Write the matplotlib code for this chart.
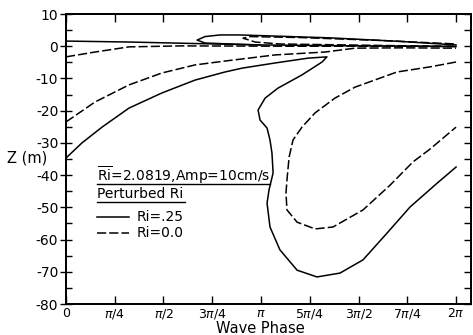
import numpy as np
import matplotlib
matplotlib.use("Agg")
import matplotlib.pyplot as plt
from matplotlib.ticker import MultipleLocator

plt.rcParams["font.family"] = "DejaVu Sans"
plt.rcParams["axes.unicode_minus"] = False

# wave phase in units of pi, depth Z in metres

# Ri = .25 (solid)
loop25_phase = [0.0, 0.082, 0.185, 0.323, 0.492, 0.662, 0.815, 0.903, 1.072, 1.241, 1.338,
                1.313, 1.210, 1.087, 1.021, 0.985, 0.995, 1.031, 1.046, 1.056, 1.062,
                1.041, 1.031, 1.046, 1.097, 1.185, 1.287, 1.405, 1.523, 1.646, 1.764,
                1.903, 2.0]
loop25_z = [-34.7, -30.0, -25.1, -19.2, -14.5, -10.5, -8.0, -6.8, -5.2, -3.7, -3.3,
            -4.9, -8.9, -13.0, -16.1, -19.8, -22.9, -25.4, -29.1, -33.1, -39.3,
            -44.6, -48.7, -56.1, -63.2, -69.5, -71.6, -70.4, -66.3, -58.0, -49.9,
            -42.5, -37.5]

top25_phase = [0.0, 0.328, 0.687, 0.995, 1.5, 2.0]
top25_z = [1.6, 1.3, 0.8, 0.4, 0.1, -0.1]

tongue25_phase = [0.995, 0.841, 0.713, 0.672, 0.713, 0.79, 0.892, 1.149, 1.354, 1.713, 2.0]
tongue25_z = [0.4, 0.7, 1.0, 1.9, 3.0, 3.5, 3.5, 3.0, 2.6, 1.5, 0.4]

# Ri = 0.0 (dashed)
u00_phase = [2.0, 1.867, 1.697, 1.482, 1.379, 1.277, 1.210, 1.164, 1.144, 1.133, 1.128,
             1.133, 1.185, 1.277, 1.369, 1.523, 1.662, 1.779, 1.867, 2.0]
u00_z = [-4.9, -6.4, -8.0, -12.7, -16.1, -20.7, -25.1, -29.1, -34.4, -41.5, -45.6,
         -50.8, -54.6, -56.7, -56.1, -50.8, -43.1, -35.9, -31.9, -25.1]

mid00_phase = [0.0, 0.149, 0.323, 0.492, 0.662, 0.815, 1.072, 1.328, 1.482, 1.72, 2.0]
mid00_z = [-23.5, -17.3, -12.0, -8.3, -5.8, -4.6, -2.7, -1.8, -0.6, -0.5, -0.6]

up00_phase = [0.0, 0.149, 0.323, 0.585, 1.2, 2.0]
up00_z = [-3.3, -1.8, -0.2, 0.1, 0.0, 0.0]

tongue00_phase = [2.0, 1.097, 0.97, 0.908, 0.944, 1.2, 1.61, 2.0]
tongue00_z = [-0.1, 0.7, 1.3, 2.5, 3.0, 2.7, 1.8, 0.7]

xtick_labels = ["0", r"$\pi/4$", r"$\pi/2$", r"$3\pi/4$", r"$\pi$",
                r"$5\pi/4$", r"$3\pi/2$", r"$7\pi/4$", r"$2\pi$"]

fig = plt.figure(figsize=(4.73, 3.35), dpi=100)
ax = fig.add_axes([0.1395, 0.0925, 0.856, 0.8657])

dash = (0, (6, 2))
for ph, z in [(loop25_phase, loop25_z), (top25_phase, top25_z), (tongue25_phase, tongue25_z)]:
    ax.plot(np.array(ph) * np.pi, z, color="black", lw=1.1)
for ph, z in [(u00_phase, u00_z), (mid00_phase, mid00_z), (up00_phase, up00_z),
              (tongue00_phase, tongue00_z)]:
    ax.plot(np.array(ph) * np.pi, z, color="black", lw=1.1, ls=dash)

ax.set_xlim(0, 2.076 * np.pi)
ax.set_ylim(-80, 10)
ax.set_xticks(np.arange(9) * np.pi / 4)
ax.set_xticklabels(xtick_labels, fontsize=9)
ax.tick_params(axis="x", direction="in", top=True, length=6, width=1, pad=2)
ax.set_yticks(range(-80, 11, 10))
ax.yaxis.set_minor_locator(MultipleLocator(5))
ax.tick_params(axis="y", which="major", direction="inout", length=9, width=1, labelsize=10, pad=1)
ax.tick_params(axis="y", which="minor", direction="in", length=4, width=1)

ax2 = ax.twinx()
ax2.set_ylim(-80, 10)
ax2.yaxis.set_major_locator(MultipleLocator(5))
ax2.tick_params(axis="y", direction="in", length=5, width=1, labelright=False)

for a in (ax, ax2):
    for s in a.spines.values():
        s.set_linewidth(1.3)

ax.set_ylabel("Z (m)", rotation=0, fontsize=10.5, ha="center", va="center")
ax.yaxis.set_label_coords(-0.096, 0.503)
ax.set_xlabel("Wave Phase", fontsize=10.5, va="center")
ax.xaxis.set_label_coords(0.479, -0.083)

# legend block
ax.text(0.0765, 0.424, r"$\overline{\mathrm{Ri}}$=2.0819,Amp=10cm/s", fontsize=10,
        transform=ax.transAxes, va="baseline")
ax.plot([0.0765, 0.504], [0.4155, 0.4155], color="black", lw=1, transform=ax.transAxes)
ax.text(0.0765, 0.3655, "Perturbed Ri", fontsize=10, transform=ax.transAxes, va="baseline")
ax.plot([0.0765, 0.294], [0.352, 0.352], color="black", lw=1, transform=ax.transAxes)
ax.plot([0.0765, 0.156], [0.30, 0.30], color="black", lw=1.1, transform=ax.transAxes)
ax.text(0.175, 0.30, "Ri=.25", fontsize=10, transform=ax.transAxes, va="center")
ax.plot([0.0765, 0.156], [0.245, 0.245], color="black", lw=1.1, ls=dash, transform=ax.transAxes)
ax.text(0.175, 0.245, "Ri=0.0", fontsize=10, transform=ax.transAxes, va="center")

fig.savefig("out.png", dpi=100)
